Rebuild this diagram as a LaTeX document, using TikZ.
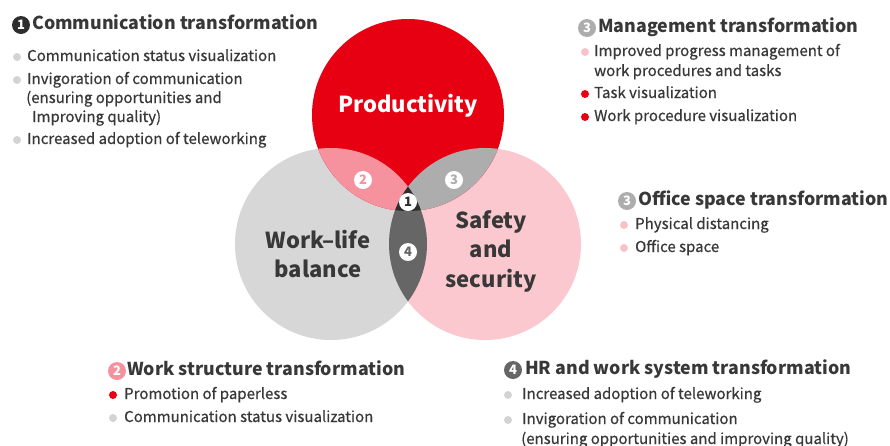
\documentclass[tikz,border=0pt]{standalone}
\usepackage{fontspec}
\setmainfont{Noto Sans CJK KR}
\newfontfamily\entryfont{Noto Sans CJK KR}[FakeBold=0.6]
\definecolor{vred}{HTML}{E60012}
\definecolor{vgrey}{HTML}{D7D7D7}
\definecolor{vpink}{HTML}{FBC8D0}
\definecolor{vrose}{HTML}{F5929D}
\definecolor{vmid}{HTML}{ADADAD}
\definecolor{vdark}{HTML}{666666}
\definecolor{vcore}{HTML}{2E2E2E}
\definecolor{ink}{HTML}{383838}
\definecolor{dotgrey}{HTML}{D3D3D3}
\definecolor{dotpink}{HTML}{F8C2CB}
\def\vr{96pt}

\tikzset{
  heading/.style={anchor=west, inner sep=0pt, text=ink, text height=13pt, text depth=4pt,
    font=\fontsize{17.8}{21}\selectfont\bfseries},
  entry/.style={anchor=west, inner sep=0pt, text=ink, text height=11pt, text depth=3pt,
    font=\entryfont\fontsize{15}{18}\selectfont},
  badge/.style={circle, fill=#1, inner sep=0pt, minimum size=18pt, text=white,
    font=\fontsize{13}{13}\selectfont\bfseries},
  spot/.style={circle, fill=white, inner sep=0pt, minimum size=18pt, text=#1,
    font=\fontsize{13}{13}\selectfont\bfseries},
  itemdot/.style={circle, fill=#1, inner sep=0pt, minimum size=8pt},
  lobe/.style={text=#1, inner sep=0pt, align=center,
    font=\fontsize{22}{29.5}\selectfont\bfseries}
}

\begin{document}
\begin{tikzpicture}[x=1pt, y=-1pt]
  \useasboundingbox (0,0) rectangle (890,445);

  % circles
  \coordinate (cR) at (408,115);
  \coordinate (cG) at (331,244);
  \coordinate (cP) at (485,244);

  \fill[vgrey] (cG) circle (\vr);
  \fill[vpink] (cP) circle (\vr);
  \fill[vred] (cR) circle (\vr);

  % overlaps
  \begin{scope}
    \clip (cR) circle (\vr);
    \fill[vrose] (cG) circle (\vr);
    \fill[vmid] (cP) circle (\vr);
  \end{scope}
  \begin{scope}
    \clip (cG) circle (\vr);
    \fill[vdark] (cP) circle (\vr);
  \end{scope}
  \begin{scope}
    \clip (cR) circle (\vr);
    \clip (cG) circle (\vr);
    \fill[vcore] (cP) circle (\vr);
  \end{scope}

  \node[lobe=white] (prod) at (408,106) {Productivity};
  \node[lobe=ink] (wlb) at (318,254) {Work–life\\balance};
  \node[lobe=ink] (safe) at (491,251) {Safety\\and\\security};

  \node[spot=vrose] (s2) at (363,180) {2};
  \node[spot=vmid] (s3) at (454,180) {3};
  \node[spot=vcore] (s1) at (408,202) {1};
  \node[spot=vdark] (s4) at (408,252) {4};

  % 1 communication
  \node[badge=vcore] (b1) at (21,25) {1};
  \node[heading] (h1) at (32,25) {Communication transformation};
  \node[itemdot=dotgrey] (d11) at (17,57) {};
  \node[entry] (t11) at (27,57) {Communication status visualization};
  \node[itemdot=dotgrey] (d12) at (17,80) {};
  \node[entry] (t12) at (27,80) {Invigoration of communication};
  \node[entry] (t12b) at (26,99) {(ensuring opportunities and};
  \node[entry] (t12c) at (32,118) {Improving quality)};
  \node[itemdot=dotgrey] (d13) at (17,140) {};
  \node[entry] (t13) at (27,140) {Increased adoption of teleworking};

  % 3 management
  \node[badge=vmid] (b3) at (587,28) {3};
  \node[heading] (h3) at (598,28) {Management transformation};
  \node[itemdot=dotpink] (d31) at (585,52) {};
  \node[entry] (t31) at (594,52) {Improved progress management of};
  \node[entry] (t31b) at (594,72) {work procedures and tasks};
  \node[itemdot=vred] (d32) at (585,94) {};
  \node[entry] (t32) at (594,94) {Task visualization};
  \node[itemdot=vred] (d33) at (585,117) {};
  \node[entry] (t33) at (594,117) {Work procedure visualization};

  % 3 office space
  \node[badge=vmid] (b3o) at (627,201) {3};
  \node[heading] (h3o) at (638,201) {Office space transformation};
  \node[itemdot=dotpink] (d41) at (624,225) {};
  \node[entry] (t41) at (635,225) {Physical distancing};
  \node[itemdot=dotpink] (d42) at (624,248) {};
  \node[entry] (t42) at (635,248) {Office space};

  % 2 work structure
  \node[badge=vrose] (b2) at (117,371) {2};
  \node[heading] (h2) at (127,371) {Work structure transformation};
  \node[itemdot=vred] (d21) at (113,395) {};
  \node[entry] (t21) at (124,395) {Promotion of paperless};
  \node[itemdot=dotgrey] (d22) at (113,418) {};
  \node[entry] (t22) at (124,418) {Communication status visualization};

  % 4 HR
  \node[badge=vdark] (b4) at (513,370) {4};
  \node[heading] (h4) at (525,370) {HR and work system transformation};
  \node[itemdot=dotgrey] (d51) at (508,395) {};
  \node[entry] (t51) at (522,395) {Increased adoption of teleworking};
  \node[itemdot=dotgrey] (d52) at (508,420) {};
  \node[entry] (t52) at (522,420) {Invigoration of communication};
  \node[entry] (t52b) at (521,440) {(ensuring opportunities and improving quality)};
\end{tikzpicture}
\end{document}
